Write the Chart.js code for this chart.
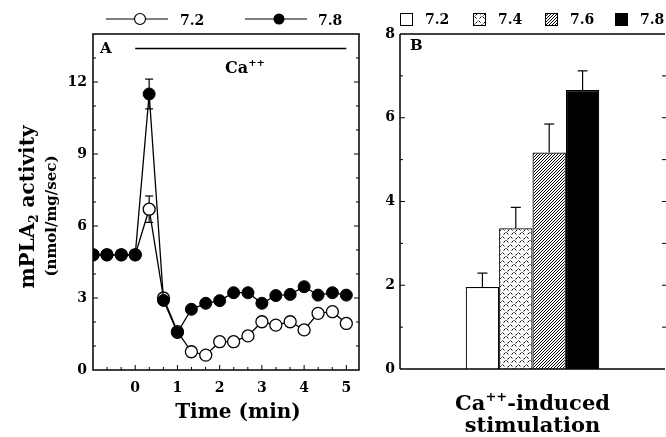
<!DOCTYPE html>
<html>
<head>
<meta charset="utf-8">
<script src="https://cdn.jsdelivr.net/npm/chart.js@4.4.1/dist/chart.umd.min.js"></script>
<style>
  body { margin: 0; background: #fff; }
  #wrap { position: relative; width: 666px; height: 437px; }
  canvas { position: absolute; top: 0; }
</style>
</head>
<body>
<div id="wrap">
  <canvas id="chartA" width="370" height="437" style="left:0"></canvas>
  <canvas id="chartB" width="296" height="437" style="left:370px"></canvas>
</div>
<script>
// Panel A: time course, sampled every 20 s
const timeMin = [-1, -0.67, -0.33, 0, 0.33, 0.67, 1, 1.33, 1.67, 2, 2.33, 2.67, 3, 3.33, 3.67, 4, 4.33, 4.67, 5];
const ph72 = [4.8, 4.8, 4.8, 4.8, 6.7, 3.0, 1.6, 0.76, 0.62, 1.18, 1.18, 1.42, 2.01, 1.87, 2.01, 1.67, 2.36, 2.43, 1.94];
const ph78 = [4.8, 4.8, 4.8, 4.8, 11.5, 2.9, 1.56, 2.53, 2.78, 2.89, 3.22, 3.22, 2.78, 3.1, 3.15, 3.47, 3.12, 3.22, 3.12];
const err72 = [0, 0, 0, 0, 0.55, 0, 0, 0, 0, 0, 0, 0, 0, 0, 0, 0, 0, 0, 0];
const err78 = [0, 0, 0, 0, 0.62, 0, 0, 0, 0, 0, 0, 0, 0, 0, 0, 0, 0, 0, 0];
const xTicksA = [0, 1, 2, 3, 4, 5];
const yTicksA = [0, 3, 6, 9, 12];

// Panel B: Ca++-induced stimulation by pH
const phLabels = ['7.2', '7.4', '7.6', '7.8'];
const stim = [1.96, 3.36, 5.17, 6.66];
const stimErr = [0.33, 0.5, 0.68, 0.46];
const yTicksB = [0, 2, 4, 6, 8];

const serif = '"DejaVu Serif", serif';
function font(size) { return 'bold ' + size + 'px ' + serif; }

function drawParts(ctx, parts, x, y, align) {
  let w = 0;
  parts.forEach(p => { ctx.font = font(p.size); p.w = ctx.measureText(p.t).width; w += p.w; });
  let cx = align === 'center' ? x - w / 2 : (align === 'right' ? x - w : x);
  ctx.textAlign = 'left';
  ctx.textBaseline = 'alphabetic';
  parts.forEach(p => {
    ctx.font = font(p.size);
    ctx.fillText(p.t, cx, y + (p.dy || 0));
    cx += p.w;
  });
}

function seg(ctx, x1, y1, x2, y2) {
  ctx.beginPath(); ctx.moveTo(x1, y1); ctx.lineTo(x2, y2); ctx.stroke();
}

// hatch fills for the bars
function makePattern(kind) {
  const c = document.createElement('canvas');
  const s = kind === 'dash' ? 8 : 3;
  c.width = s; c.height = s;
  const g = c.getContext('2d');
  g.fillStyle = '#fff'; g.fillRect(0, 0, s, s);
  g.strokeStyle = '#000'; g.lineWidth = 1;
  if (kind === 'diag') {
    seg(g, -1, 4, 4, -1);
    seg(g, -1, 1, 1, -1);
    seg(g, 2, 4, 4, 2);
  } else {
    seg(g, 0.5, 0.5, 2.5, 2.5);
    seg(g, 5.5, 2.5, 7.5, 0.5);
    seg(g, 4.5, 4.5, 6.5, 6.5);
    seg(g, 1.5, 7.5, 3.5, 5.5);
  }
  return document.createElement('canvas').getContext('2d').createPattern(c, 'repeat');
}
const fills = ['#fff', makePattern('dash'), makePattern('diag'), '#000'];

function tickFont() { return { family: serif, size: 14, weight: 'bold' }; }

const panelA = {
  id: 'panelA',
  beforeDatasetsDraw(chart) {
    const { ctx, scales: { x, y } } = chart;
    ctx.save();
    ctx.strokeStyle = '#000';
    ctx.lineWidth = 1.2;
    [[ph72, err72], [ph78, err78]].forEach(([vals, errs]) => {
      vals.forEach((v, i) => {
        if (!errs[i]) return;
        const px = x.getPixelForValue(timeMin[i]);
        const top = y.getPixelForValue(v + errs[i]);
        const bot = y.getPixelForValue(v - errs[i]);
        seg(ctx, px, top, px, bot);
        seg(ctx, px - 4, top, px + 4, top);
        seg(ctx, px - 4, bot, px + 4, bot);
      });
    });
    ctx.restore();
  },
  afterDraw(chart) {
    const { ctx, chartArea: a, scales: { x, y } } = chart;
    ctx.save();
    ctx.strokeStyle = '#000';
    ctx.fillStyle = '#000';
    ctx.lineWidth = 1.5;
    ctx.strokeRect(a.left, a.top, a.right - a.left, a.bottom - a.top);
    ctx.lineWidth = 1;
    for (let v = 1; v <= 13; v++) {
      const py = y.getPixelForValue(v);
      const len = v % 3 === 0 ? 5 : 3;
      seg(ctx, a.left, py, a.left + len, py);
      seg(ctx, a.right, py, a.right - len, py);
    }
    for (let k = -2; k <= 15; k++) {
      const px = x.getPixelForValue(k / 3);
      const len = k % 3 === 0 ? 5 : 3;
      seg(ctx, px, a.bottom, px, a.bottom - len);
    }
    // Ca++ bar
    ctx.lineWidth = 1.5;
    const yb = y.getPixelForValue(13.4);
    seg(ctx, x.getPixelForValue(0), yb, x.getPixelForValue(5), yb);
    drawParts(ctx, [{ t: 'Ca', size: 16 }, { t: '++', size: 10, dy: -7 }], x.getPixelForValue(2.6), 73, 'center');
    drawParts(ctx, [{ t: 'A', size: 15 }], a.left + 7, 53, 'left');
    // legend
    ctx.lineWidth = 1.2;
    seg(ctx, 106, 19, 168, 19);
    ctx.beginPath(); ctx.arc(140, 19, 5.5, 0, Math.PI * 2);
    ctx.fillStyle = '#fff'; ctx.fill(); ctx.stroke();
    ctx.fillStyle = '#000';
    drawParts(ctx, [{ t: '7.2', size: 14 }], 180, 25, 'left');
    seg(ctx, 245, 19, 307, 19);
    ctx.beginPath(); ctx.arc(279, 19, 5.5, 0, Math.PI * 2); ctx.fill();
    drawParts(ctx, [{ t: '7.8', size: 14 }], 318, 25, 'left');
    // y title
    ctx.save();
    ctx.translate(34, 207);
    ctx.rotate(-Math.PI / 2);
    drawParts(ctx, [{ t: 'mPLA', size: 20 }, { t: '2', size: 12, dy: 4 }, { t: ' activity', size: 20 }], 0, 0, 'center');
    ctx.restore();
    ctx.save();
    ctx.translate(56, 216);
    ctx.rotate(-Math.PI / 2);
    drawParts(ctx, [{ t: '(nmol/mg/sec)', size: 15 }], 0, 0, 'center');
    ctx.restore();
    // x title
    drawParts(ctx, [{ t: 'Time (min)', size: 20 }], 238, 418, 'center');
    ctx.restore();
  }
};

new Chart(document.getElementById('chartA'), {
  type: 'line',
  data: {
    datasets: [
      {
        label: '7.8',
        data: timeMin.map((t, i) => ({ x: t, y: ph78[i] })),
        borderColor: '#000',
        borderWidth: 1.3,
        pointRadius: 6,
        pointBackgroundColor: '#000',
        pointBorderColor: '#000',
        pointBorderWidth: 1,
        tension: 0,
        order: 1
      },
      {
        label: '7.2',
        data: timeMin.map((t, i) => ({ x: t, y: ph72[i] })),
        borderColor: '#000',
        borderWidth: 1.3,
        pointRadius: 6,
        pointBackgroundColor: '#fff',
        pointBorderColor: '#000',
        pointBorderWidth: 1.3,
        tension: 0,
        order: 2
      }
    ]
  },
  options: {
    responsive: false,
    animation: false,
    devicePixelRatio: 1,
    layout: { padding: { top: 34, right: 11, left: 0, bottom: 0 } },
    plugins: { legend: { display: false }, tooltip: { enabled: false } },
    scales: {
      x: {
        type: 'linear', min: -1, max: 5.3,
        grid: { display: false, drawTicks: false },
        border: { display: false },
        afterBuildTicks: s => { s.ticks = xTicksA.map(v => ({ value: v })); },
        ticks: { padding: 10, color: '#000', font: tickFont(), maxRotation: 0, autoSkip: false },
        afterFit: s => { s.height = 67; }
      },
      y: {
        min: 0, max: 14,
        grid: { display: false, drawTicks: false },
        border: { display: false },
        afterBuildTicks: s => { s.ticks = yTicksA.map(v => ({ value: v })); },
        ticks: { padding: 6, color: '#000', font: tickFont() },
        afterFit: s => { s.width = 93; }
      }
    }
  },
  plugins: [panelA]
});

const panelB = {
  id: 'panelB',
  afterDatasetsDraw(chart) {
    const { ctx, scales: { y } } = chart;
    ctx.save();
    ctx.strokeStyle = '#000';
    ctx.lineWidth = 1.2;
    stim.forEach((v, i) => {
      const bar = chart.getDatasetMeta(i).data[0];
      const top = y.getPixelForValue(v + stimErr[i]);
      seg(ctx, bar.x, bar.y, bar.x, top);
      seg(ctx, bar.x - 5, top, bar.x + 5, top);
    });
    ctx.restore();
  },
  afterDraw(chart) {
    const { ctx, chartArea: a, scales: { y } } = chart;
    ctx.save();
    ctx.strokeStyle = '#000';
    ctx.fillStyle = '#000';
    ctx.lineWidth = 1.5;
    seg(ctx, a.left, a.top, a.right, a.top);
    seg(ctx, a.left, a.top, a.left, a.bottom);
    seg(ctx, a.left, a.bottom, a.right, a.bottom);
    ctx.lineWidth = 1;
    for (let v = 1; v <= 7; v++) {
      const py = y.getPixelForValue(v);
      const len = v % 2 === 0 ? 5 : 3;
      seg(ctx, a.left, py, a.left + len, py);
      seg(ctx, a.right + 1, py, a.right - 3, py);
    }
    drawParts(ctx, [{ t: 'B', size: 15 }], a.left + 10, 50, 'left');
    // legend
    const lx = [30, 103, 175, 245];
    phLabels.forEach((p, i) => {
      ctx.fillStyle = fills[i];
      ctx.fillRect(lx[i], 13, 13, 13);
      ctx.strokeRect(lx[i] + 0.5, 13.5, 12, 12);
      ctx.fillStyle = '#000';
      drawParts(ctx, [{ t: p, size: 14 }], lx[i] + 25, 24, 'left');
    });
    const cx = (a.left + a.right) / 2;
    drawParts(ctx, [{ t: 'Ca', size: 21 }, { t: '++', size: 13, dy: -9 }, { t: '-induced', size: 21 }], cx, 410, 'center');
    drawParts(ctx, [{ t: 'stimulation', size: 21 }], cx, 432, 'center');
    ctx.restore();
  }
};

new Chart(document.getElementById('chartB'), {
  type: 'bar',
  data: {
    labels: [''],
    datasets: phLabels.map((p, i) => ({
      label: p,
      data: [stim[i]],
      backgroundColor: fills[i],
      borderColor: '#000',
      borderWidth: 1.2,
      categoryPercentage: 0.504,
      barPercentage: 1
    }))
  },
  options: {
    responsive: false,
    animation: false,
    devicePixelRatio: 1,
    layout: { padding: { top: 34, right: 1, left: 0, bottom: 0 } },
    plugins: { legend: { display: false }, tooltip: { enabled: false } },
    scales: {
      x: {
        grid: { display: false, drawTicks: false },
        border: { display: false },
        ticks: { display: false },
        afterFit: s => { s.height = 68; }
      },
      y: {
        min: 0, max: 8,
        grid: { display: false, drawTicks: false },
        border: { display: false },
        afterBuildTicks: s => { s.ticks = yTicksB.map(v => ({ value: v })); },
        ticks: { padding: 5, color: '#000', font: tickFont() },
        afterFit: s => { s.width = 30; }
      }
    }
  },
  plugins: [panelB]
});
</script>
</body>
</html>
